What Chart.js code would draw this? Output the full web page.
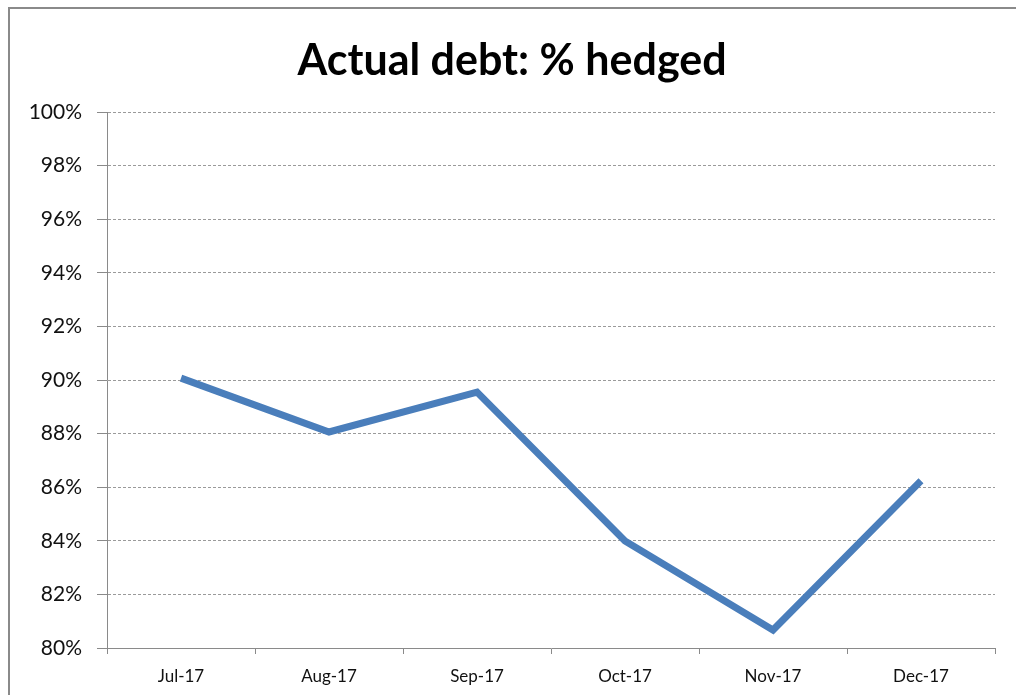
<!DOCTYPE html>
<html>
<head>
<meta charset="utf-8">
<script src="https://cdn.jsdelivr.net/npm/chart.js@4"></script>
<style>
  html, body { margin: 0; padding: 0; background: #fff; overflow: hidden; }
  #wrap { position: absolute; left: 0; top: 0; width: 1016px; height: 695px; }
  #frame { position: absolute; left: 8px; top: 7px; width: 1100px; height: 800px;
    border-left: 2px solid #8a8a8a; border-top: 2px solid #8a8a8a; pointer-events: none; }
</style>
</head>
<body>
<div id="wrap"><canvas id="myChart" width="1016" height="695"></canvas></div>
<div id="frame"></div>
<script>
// Actual debt: % hedged

const months = ["Jul-17", "Aug-17", "Sep-17", "Oct-17", "Nov-17", "Dec-17"];
const hedgedPct = [90.07, 88.06, 89.55, 83.99, 80.67, 86.24];
const yMin = 80;
const yMax = 100;
const yStep = 2;

const textFont = "Lato, 'Open Sans', sans-serif";

new Chart("myChart", {
  type: "line",
  data: {
    labels: months,
    datasets: [
      {
        data: hedgedPct,
        borderColor: "#4a7ebb",
        borderWidth: 7,
        pointRadius: 0,
        tension: 0,
        fill: false,
      },
    ],
  },
  options: {
    responsive: false,
    animation: false,
    events: [],
    // left padding keeps the title centred like the original
    layout: { padding: { left: 29, right: 21, top: 0, bottom: 0 } },
    plugins: {
      legend: { display: false },
      tooltip: { enabled: false },
      title: {
        display: true,
        text: "Actual debt: % hedged",
        color: "#000",
        font: { family: textFont, size: 43, weight: "bold", lineHeight: 1.2 },
        padding: { top: 35, bottom: 25.4 },
      },
    },
    scales: {
      x: {
        offset: true,
        grid: {
          offset: true,
          drawOnChartArea: false,
          drawTicks: true,
          tickLength: 6,
          color: "#8a8a8a",
        },
        border: { display: true, color: "#8a8a8a", width: 1 },
        ticks: {
          color: "#111",
          font: { family: textFont, size: 17 },
          padding: 12,
          maxRotation: 0,
        },
        afterFit: (scale) => {
          scale.height = 47;
        },
      },
      y: {
        min: yMin,
        max: yMax,
        grid: {
          color: "#9a9a9a",
          lineWidth: 1,
          tickLength: 10,
          tickColor: "#8a8a8a",
        },
        border: { display: true, color: "#8a8a8a", width: 1, dash: [3, 2] },
        ticks: {
          stepSize: yStep,
          color: "#111",
          font: { family: textFont, size: 21 },
          padding: 15,
          callback: (v) => v + "%",
        },
        afterFit: (scale) => {
          scale.width = 78;
        },
      },
    },
  },
});
</script>
</body>
</html>
